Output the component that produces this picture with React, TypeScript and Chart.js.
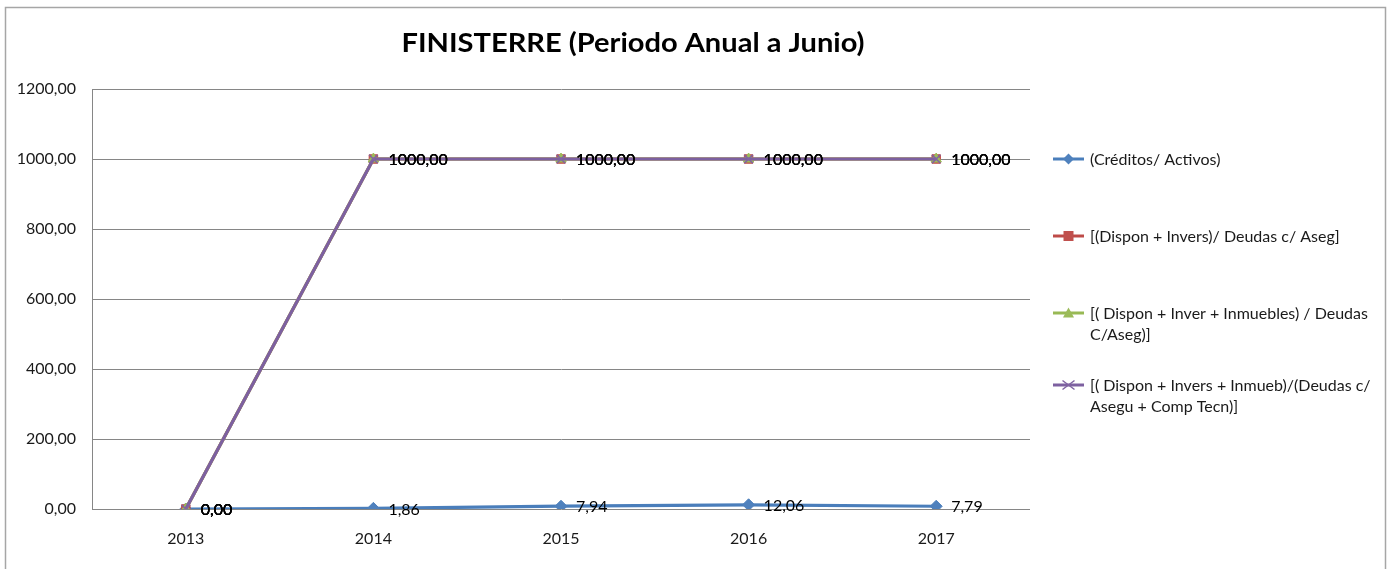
import React, { useEffect, useRef } from "react";
import { Chart, registerables } from "chart.js";

Chart.register(...registerables);

const categories = ["2013", "2014", "2015", "2016", "2017"];
const creditosActivos = [0, 1.86, 7.94, 12.06, 7.79];
const disponInvers = [0, 1000, 1000, 1000, 1000];
const disponInverInmuebles = [0, 1000, 1000, 1000, 1000];
const disponInversInmuebComp = [0, 1000, 1000, 1000, 1000];

const seriesLabels = [
  "(Créditos/ Activos)",
  "[(Dispon + Invers)/ Deudas c/ Aseg]",
  "[( Dispon + Inver + Inmuebles) / Deudas C/Aseg)]",
  "[( Dispon + Invers + Inmueb)/(Deudas c/ Asegu + Comp Tecn)]",
];
const legendLines = [
  ["(Créditos/ Activos)"],
  ["[(Dispon + Invers)/ Deudas c/ Aseg]"],
  ["[( Dispon + Inver + Inmuebles) / Deudas", "C/Aseg)]"],
  ["[( Dispon + Invers + Inmueb)/(Deudas c/", "Asegu + Comp Tecn)]"],
];
const yMin = 0;
const yMax = 1200;
const yStep = 200;
const chartTitle = "FINISTERRE (Periodo Anual a Junio)";

const lineColors = ["#4A7EBB", "#BE4B48", "#98B954", "#7D60A0"];
const markerColors = ["#4F81BD", "#C0504D", "#9BBB59", "#8064A2"];
const markerStyles = ["rectRot", "rect", "triangle", "crossRot"];

const FONT = "Lato, 'Open Sans', sans-serif";
const TEXT_COLOR = "#1a1a1a";
const fmt = (v: number) => v.toFixed(2).replace(".", ",");

function drawMarker(ctx: CanvasRenderingContext2D, style: string, x: number, y: number, color: string) {
  ctx.save();
  ctx.fillStyle = color;
  ctx.strokeStyle = color;
  ctx.beginPath();
  if (style === "rectRot") {
    const r = 5.5;
    ctx.moveTo(x, y - r);
    ctx.lineTo(x + r, y);
    ctx.lineTo(x, y + r);
    ctx.lineTo(x - r, y);
    ctx.closePath();
    ctx.fill();
  } else if (style === "rect") {
    ctx.rect(x - 5, y - 5, 10, 10);
    ctx.fill();
  } else if (style === "triangle") {
    ctx.moveTo(x, y - 5.5);
    ctx.lineTo(x + 5.5, y + 4.5);
    ctx.lineTo(x - 5.5, y + 4.5);
    ctx.closePath();
    ctx.fill();
  } else {
    ctx.lineWidth = 1.5;
    ctx.moveTo(x - 6, y - 4.5);
    ctx.lineTo(x + 6, y + 4.5);
    ctx.moveTo(x + 6, y - 4.5);
    ctx.lineTo(x - 6, y + 4.5);
    ctx.stroke();
  }
  ctx.restore();
}

const decorPlugin = {
  id: "decor",
  beforeDraw(chart: any) {
    const ctx = chart.ctx as CanvasRenderingContext2D;
    ctx.save();
    ctx.fillStyle = "#ffffff";
    ctx.fillRect(0, 0, chart.width, chart.height);
    ctx.strokeStyle = "#A6A6A6";
    ctx.lineWidth = 1.5;
    ctx.strokeRect(5.5, 7.5, 1380, 700);
    // title
    ctx.font = `bold 27px ${FONT}`;
    const w = ctx.measureText(chartTitle).width;
    const sx = 463 / w;
    ctx.translate(633, 43);
    ctx.scale(sx, 1);
    ctx.fillStyle = "#000000";
    ctx.textAlign = "center";
    ctx.textBaseline = "middle";
    ctx.fillText(chartTitle, 0, 0);
    ctx.restore();
  },
  afterDraw(chart: any) {
    const ctx = chart.ctx as CanvasRenderingContext2D;
    // data labels
    ctx.save();
    ctx.font = `16px ${FONT}`;
    ctx.fillStyle = "#000000";
    ctx.textAlign = "left";
    ctx.textBaseline = "middle";
    chart.data.datasets.forEach((ds: any, i: number) => {
      const meta = chart.getDatasetMeta(i);
      meta.data.forEach((pt: any, j: number) => {
        ctx.fillText(fmt(ds.data[j]), pt.x + 15, pt.y + 1);
      });
    });
    ctx.restore();
    // legend
    ctx.save();
    const legendY = [159, 236, 313, 385];
    const lineH = 21;
    legendLines.forEach((lines, i) => {
      const y = legendY[i];
      ctx.strokeStyle = lineColors[i];
      ctx.lineWidth = 3;
      ctx.beginPath();
      ctx.moveTo(1053, y);
      ctx.lineTo(1084, y);
      ctx.stroke();
      drawMarker(ctx, markerStyles[i], 1068.5, y, markerColors[i]);
      ctx.font = `16px ${FONT}`;
      ctx.fillStyle = TEXT_COLOR;
      ctx.textAlign = "left";
      ctx.textBaseline = "middle";
      lines.forEach((t, k) => ctx.fillText(t, 1090, y + 1 + k * lineH));
    });
    ctx.restore();
  },
};

export default function App() {
  const ref = useRef<HTMLCanvasElement | null>(null);
  useEffect(() => {
    if (!ref.current) return;
    const series = [creditosActivos, disponInvers, disponInverInmuebles, disponInversInmuebComp];
    const orders = [3, 2, 1, 0];
    const chart = new Chart(ref.current, {
      type: "line",
      data: {
        labels: categories,
        datasets: series.map((d, i) => ({
          label: seriesLabels[i],
          data: d,
          borderColor: lineColors[i],
          backgroundColor: markerColors[i],
          borderWidth: 3.2,
          pointStyle: markerStyles[i] as any,
          pointRadius: i === 3 ? 6 : 6,
          pointBorderColor: markerColors[i],
          pointBackgroundColor: markerColors[i],
          pointBorderWidth: i === 3 ? 1.5 : 1,
          tension: 0,
          fill: false,
          order: orders[i],
        })),
      },
      options: {
        responsive: false,
        animation: false,
        devicePixelRatio: 1,
        layout: { padding: { top: 89, right: 360, bottom: 0, left: 0 } },
        plugins: {
          legend: { display: false },
          title: { display: false },
          tooltip: { enabled: false },
        },
        scales: {
          x: {
            type: "category",
            offset: true,
            grid: { display: false, drawTicks: false },
            border: { display: false },
            ticks: { padding: 20, color: TEXT_COLOR, font: { family: FONT, size: 16 } },
            afterFit: (s: any) => {
              s.height = 60;
            },
          },
          y: {
            min: yMin,
            max: yMax,
            ticks: {
              stepSize: yStep,
              padding: 16,
              color: TEXT_COLOR,
              font: { family: FONT, size: 16 },
              callback: (v: any) => fmt(Number(v)),
            },
            grid: { color: "#868686", lineWidth: 1, drawTicks: false },
            border: { display: true, color: "#868686", width: 1 },
            afterFit: (s: any) => {
              s.width = 92;
            },
          },
        },
      },
      plugins: [decorPlugin],
    });
    return () => chart.destroy();
  }, []);
  return (
    <div style={{ position: "absolute", left: 0, top: 0, width: 1390, height: 569, background: "#fff" }}>
      <canvas ref={ref} width={1390} height={569} style={{ display: "block", width: 1390, height: 569 }} />
    </div>
  );
}
